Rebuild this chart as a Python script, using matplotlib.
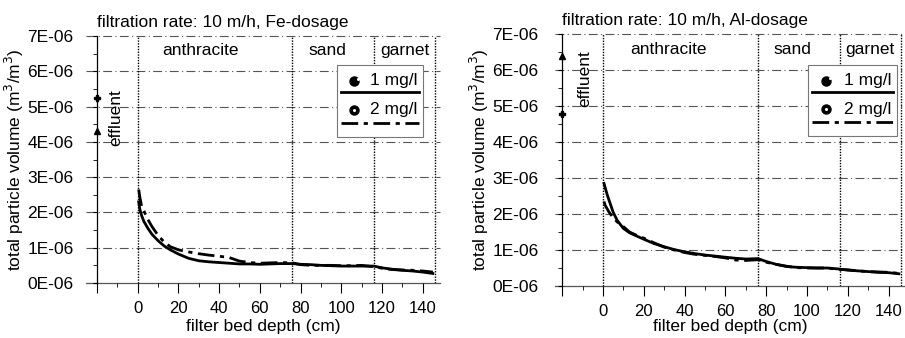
import matplotlib
matplotlib.use("Agg")
import matplotlib.pyplot as plt
from matplotlib.lines import Line2D
from matplotlib.patches import Rectangle

plt.rcParams["font.family"] = ["Liberation Sans", "DejaVu Sans"]
plt.rcParams["font.size"] = 12.5

# ---- data -------------------------------------------------------------------
depth = [0.5, 1, 2, 3, 5, 7, 10, 13, 16, 20, 25, 30, 35, 40, 45, 50, 55, 60,
         65, 70, 76, 80, 85, 90, 95, 100, 105, 110, 116, 120, 125, 130, 135,
         140, 145]

fe_1mg = [2.3, 2.1, 1.9, 1.75, 1.55, 1.38, 1.2, 1.05, 0.94, 0.82, 0.7, 0.63,
          0.6, 0.58, 0.56, 0.54, 0.54, 0.53, 0.54, 0.55, 0.55, 0.53, 0.52, 0.5,
          0.49, 0.48, 0.48, 0.48, 0.48, 0.43, 0.39, 0.36, 0.34, 0.31, 0.27]
fe_2mg = [2.65, 2.45, 2.15, 2.05, 1.8, 1.6, 1.35, 1.16, 1.03, 0.94, 0.88,
          0.83, 0.79, 0.76, 0.72, 0.62, 0.58, 0.56, 0.57, 0.58, 0.57, 0.52,
          0.5, 0.5, 0.5, 0.49, 0.49, 0.5, 0.46, 0.42, 0.38, 0.37, 0.36, 0.34,
          0.31]

al_1mg = [2.85, 2.75, 2.55, 2.38, 2.05, 1.82, 1.6, 1.48, 1.4, 1.3, 1.18, 1.09,
          1.01, 0.95, 0.9, 0.86, 0.83, 0.8, 0.77, 0.75, 0.76, 0.68, 0.6, 0.54,
          0.52, 0.51, 0.5, 0.5, 0.47, 0.44, 0.42, 0.4, 0.38, 0.37, 0.34]
al_2mg = [2.35, 2.25, 2.15, 2.05, 1.9, 1.78, 1.65, 1.5, 1.42, 1.33, 1.2, 1.08,
          1.0, 0.93, 0.88, 0.85, 0.82, 0.78, 0.72, 0.71, 0.73, 0.66, 0.6, 0.55,
          0.51, 0.5, 0.5, 0.5, 0.46, 0.45, 0.42, 0.4, 0.39, 0.38, 0.35]

# effluent values (x1e-6): (cap "+", triangle)
fe_effluent = [5.23, 4.3]
al_effluent = [4.77, 6.4]

layer_bounds = [0, 76, 116, 146]
layer_names = ["anthracite", "sand", "garnet"]
fe_layer_x = [31, 93, 131]
al_layer_x = [32, 93, 131]

yticks = [0, 1, 2, 3, 4, 5, 6, 7]
ytick_labels = ["0E-06", "1E-06", "2E-06", "3E-06", "4E-06", "5E-06",
                "6E-06", "7E-06"]
xticks = [-20, 0, 20, 40, 60, 80, 100, 120, 140]
xtick_labels = ["", "0", "20", "40", "60", "80", "100", "120", "140"]

W, H = 905, 338
fig = plt.figure(figsize=(W / 100, H / 100), dpi=100)

DASHDOT = (0, (6, 2, 1.5, 2))


def px_axes(l, t, r, b):
    return fig.add_axes([l / W, 1 - b / H, (r - l) / W, (b - t) / H])


def legend_box(ax, x0, y0, x1, y1):
    # Origin-style legend: marker + text, line drawn beneath each entry
    tr = ax.transAxes
    ax.add_patch(Rectangle((x0, y0), x1 - x0, y1 - y0, transform=tr,
                           facecolor="white", edgecolor="#777777", lw=0.8,
                           zorder=5))
    w, h = x1 - x0, y1 - y0
    rows = [(0.78, 0.62, "1 mg/l", "-", (0.05, 0.03)),
            (0.38, 0.20, "2 mg/l", DASHDOT, (0.0, 0.0))]
    for ym, yl, lab, ls, off in rows:
        ax.plot([x0 + 0.2 * w], [y0 + ym * h], "o", ms=6.5, color="black",
                transform=tr, zorder=6)
        ax.plot([x0 + (0.2 + off[0]) * w], [y0 + (ym + off[1]) * h],
                "o", ms=2.2, mew=0, color="white", transform=tr, zorder=7)
        ax.text(x0 + 0.94 * w, y0 + ym * h, lab, ha="right", va="center",
                transform=tr, zorder=6)
        ax.add_line(Line2D([x0 + 0.05 * w, x0 + 0.95 * w],
                           [y0 + yl * h, y0 + yl * h], color="black",
                           lw=2, ls=ls, transform=tr, zorder=6))


def panel(ax, xlim, y_a, y_b, effl, title, layer_x, effl_xy, legend,
          xlabel_y):
    ax.set_xlim(*xlim)
    ax.set_ylim(0, 7)
    for sp in ["top", "right", "bottom"]:
        ax.spines[sp].set_visible(False)
    ax.spines["left"].set_position(("data", -20))
    ax.spines["left"].set_linewidth(0.9)
    ax.set_yticks(yticks)
    ax.set_yticklabels(ytick_labels)
    ax.set_yticks([v + 0.5 for v in yticks[:-1]], minor=True)
    ax.set_xticks(xticks)
    ax.set_xticklabels(xtick_labels)
    ax.set_xticks([-10, 10, 30, 50, 70, 90, 110, 130], minor=True)
    ax.tick_params(axis="y", which="major", length=3, pad=14)
    ax.tick_params(axis="y", which="minor", length=3)
    ax.tick_params(axis="x", which="major", length=7, pad=6, labelsize=12)
    ax.tick_params(axis="x", which="minor", length=3)
    ax.axhline(0, color="#555555", lw=0.9, zorder=1, clip_on=False)
    for v in yticks[1:]:
        ax.axhline(v, color="#555555", lw=0.8, ls=(0, (8, 3, 1, 3)),
                   zorder=1, clip_on=False)
    for b in layer_bounds:
        ax.axvline(b, color="black", lw=1.0, ls=(0, (1, 1)), zorder=2)
    for name, lx in zip(layer_names, layer_x):
        ax.text(lx, 6.58, name, ha="center", va="center")

    ax.plot(depth, y_a, color="black", lw=2.0, zorder=4)
    ax.plot(depth, y_b, color="black", lw=2.0, ls=DASHDOT, zorder=4)

    ax.plot([-20], [effl[0]], marker="P", ms=5, color="black",
            clip_on=False, zorder=4)
    ax.plot([-20], [effl[1]], marker="^", ms=5, color="black",
            clip_on=False, zorder=4)
    ax.text(effl_xy[0], effl_xy[1], "effluent", rotation=90, ha="center",
            va="center")

    ax.set_xlabel("filter bed depth (cm)")
    ax.xaxis.set_label_coords(0.5, xlabel_y)
    ax.set_ylabel("total particle volume (m$^3$/m$^3$)", labelpad=1)
    ax.text(-20, 7.38, title, ha="left", va="center")
    legend_box(ax, *legend)


ax1 = px_axes(86, 36, 440, 283)
panel(ax1, (-25.4, 148.5), fe_1mg, fe_2mg, fe_effluent,
      "filtration rate: 10 m/h, Fe-dosage", fe_layer_x, (-11, 4.68),
      (0.709, 0.591, 0.952, 0.883), -0.145)

ax2 = px_axes(555, 34, 905, 286)
panel(ax2, (-23.5, 148.0), al_1mg, al_2mg, al_effluent,
      "filtration rate: 10 m/h, Al-dosage", al_layer_x, (-9, 5.75),
      (0.723, 0.595, 0.977, 0.877), -0.131)

fig.savefig("out.png", dpi=100)
